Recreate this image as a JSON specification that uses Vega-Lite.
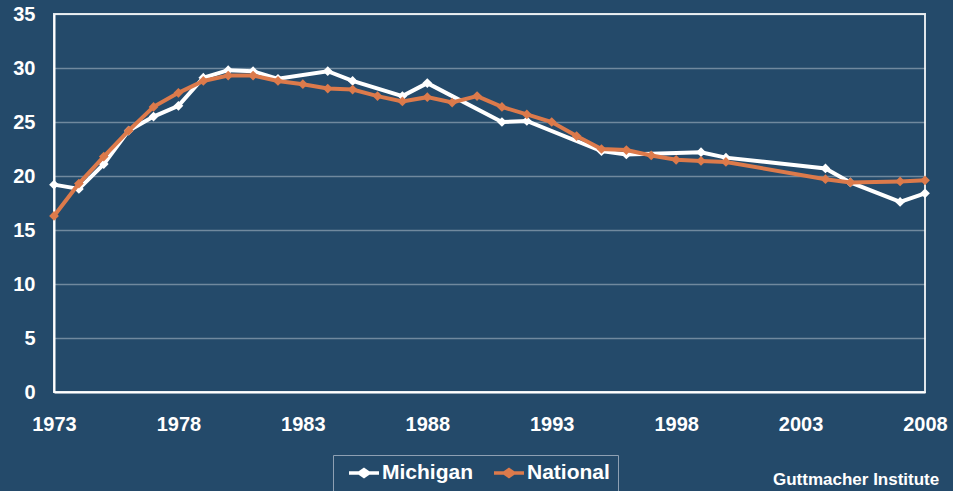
{
  "$schema": "https://vega.github.io/schema/vega-lite/v6.json",
  "width": 871,
  "height": 378,
  "autosize": {"type": "none"},
  "padding": {"left": 54, "top": 14, "right": 28, "bottom": 99},
  "background": "#244a6a",
  "title": {
    "text": "Guttmacher Institute",
    "orient": "bottom",
    "anchor": "end",
    "color": "#ffffff",
    "font": "Liberation Sans",
    "fontSize": 17,
    "fontWeight": "bold",
    "offset": 0,
    "dx": -8,
    "dy": -20
  },
  "data": {
    "values": [
      {"series": "Michigan", "year": 1973, "rate": 19.2},
      {"series": "Michigan", "year": 1974, "rate": 18.8},
      {"series": "Michigan", "year": 1975, "rate": 21.1},
      {"series": "Michigan", "year": 1976, "rate": 24.2},
      {"series": "Michigan", "year": 1977, "rate": 25.5},
      {"series": "Michigan", "year": 1978, "rate": 26.5},
      {"series": "Michigan", "year": 1979, "rate": 29.1},
      {"series": "Michigan", "year": 1980, "rate": 29.8},
      {"series": "Michigan", "year": 1981, "rate": 29.7},
      {"series": "Michigan", "year": 1982, "rate": 29.0},
      {"series": "Michigan", "year": 1984, "rate": 29.7},
      {"series": "Michigan", "year": 1985, "rate": 28.8},
      {"series": "Michigan", "year": 1987, "rate": 27.4},
      {"series": "Michigan", "year": 1988, "rate": 28.6},
      {"series": "Michigan", "year": 1991, "rate": 25.0},
      {"series": "Michigan", "year": 1992, "rate": 25.1},
      {"series": "Michigan", "year": 1995, "rate": 22.3},
      {"series": "Michigan", "year": 1996, "rate": 22.0},
      {"series": "Michigan", "year": 1999, "rate": 22.2},
      {"series": "Michigan", "year": 2000, "rate": 21.7},
      {"series": "Michigan", "year": 2004, "rate": 20.7},
      {"series": "Michigan", "year": 2005, "rate": 19.4},
      {"series": "Michigan", "year": 2007, "rate": 17.6},
      {"series": "Michigan", "year": 2008, "rate": 18.4},
      {"series": "National", "year": 1973, "rate": 16.3},
      {"series": "National", "year": 1974, "rate": 19.3},
      {"series": "National", "year": 1975, "rate": 21.8},
      {"series": "National", "year": 1976, "rate": 24.2},
      {"series": "National", "year": 1977, "rate": 26.4},
      {"series": "National", "year": 1978, "rate": 27.7},
      {"series": "National", "year": 1979, "rate": 28.8},
      {"series": "National", "year": 1980, "rate": 29.3},
      {"series": "National", "year": 1981, "rate": 29.3},
      {"series": "National", "year": 1982, "rate": 28.8},
      {"series": "National", "year": 1983, "rate": 28.5},
      {"series": "National", "year": 1984, "rate": 28.1},
      {"series": "National", "year": 1985, "rate": 28.0},
      {"series": "National", "year": 1986, "rate": 27.4},
      {"series": "National", "year": 1987, "rate": 26.9},
      {"series": "National", "year": 1988, "rate": 27.3},
      {"series": "National", "year": 1989, "rate": 26.8},
      {"series": "National", "year": 1990, "rate": 27.4},
      {"series": "National", "year": 1991, "rate": 26.4},
      {"series": "National", "year": 1992, "rate": 25.7},
      {"series": "National", "year": 1993, "rate": 25.0},
      {"series": "National", "year": 1994, "rate": 23.7},
      {"series": "National", "year": 1995, "rate": 22.5},
      {"series": "National", "year": 1996, "rate": 22.4},
      {"series": "National", "year": 1997, "rate": 21.9},
      {"series": "National", "year": 1998, "rate": 21.5},
      {"series": "National", "year": 1999, "rate": 21.4},
      {"series": "National", "year": 2000, "rate": 21.3},
      {"series": "National", "year": 2004, "rate": 19.7},
      {"series": "National", "year": 2005, "rate": 19.4},
      {"series": "National", "year": 2007, "rate": 19.5},
      {"series": "National", "year": 2008, "rate": 19.6}
    ]
  },
  "encoding": {
    "x": {
      "field": "year",
      "type": "quantitative",
      "scale": {"domain": [1973, 2008], "nice": false, "zero": false},
      "axis": {
        "title": null,
        "values": [1973, 1978, 1983, 1988, 1993, 1998, 2003, 2008],
        "format": "d",
        "grid": false,
        "ticks": false,
        "labelPadding": 22,
        "labelFlush": false,
        "domainColor": "#ffffff",
        "domainWidth": 2
      }
    },
    "y": {
      "field": "rate",
      "type": "quantitative",
      "scale": {"domain": [0, 35], "nice": false},
      "axis": {
        "title": null,
        "values": [0, 5, 10, 15, 20, 25, 30, 35],
        "grid": true,
        "gridColor": "#ffffff",
        "gridOpacity": 0.35,
        "gridWidth": 1.5,
        "ticks": false,
        "labelPadding": 19,
        "domainColor": "#ffffff",
        "domainWidth": 2
      }
    },
    "color": {
      "field": "series",
      "type": "nominal",
      "scale": {"domain": ["Michigan", "National"], "range": ["#ffffff", "#dc7a4b"]},
      "legend": {
        "title": null,
        "orient": "none",
        "legendX": 279,
        "legendY": 441,
        "direction": "horizontal",
        "strokeColor": "#8ea0b3",
        "padding": 8,
        "symbolOffset": 6,
        "columnPadding": 12,
        "clipHeight": 20,
        "labelFontSize": 21,
        "labelFontWeight": "bold",
        "labelColor": "#ffffff",
        "labelFont": "Liberation Sans",
        "labelOffset": 1,
        "symbolType": "M-1,0L1,0M0,-0.22L0.32,0L0,0.22L-0.32,0Z",
        "symbolSize": 900,
        "symbolStrokeWidth": 3.5,
        "encode": {
          "symbols": {"update": {"fill": {"scale": "color", "field": "value"}, "fillOpacity": {"value": 1}}}
        }
      }
    }
  },
  "layer": [
    {
      "transform": [{"filter": "datum.series === 'Michigan'"}],
      "mark": {"type": "line", "strokeWidth": 4, "point": {"shape": "diamond", "size": 95, "filled": true, "opacity": 1}}
    },
    {
      "transform": [{"filter": "datum.series === 'National'"}],
      "mark": {"type": "line", "strokeWidth": 4, "point": {"shape": "diamond", "size": 95, "filled": true, "opacity": 1}}
    }
  ],
  "config": {
    "view": {"stroke": "#dfe5ea", "strokeWidth": 2},
    "axis": {
      "labelFont": "Liberation Sans",
      "labelFontSize": 20,
      "labelFontWeight": "bold",
      "labelColor": "#ffffff"
    }
  }
}
